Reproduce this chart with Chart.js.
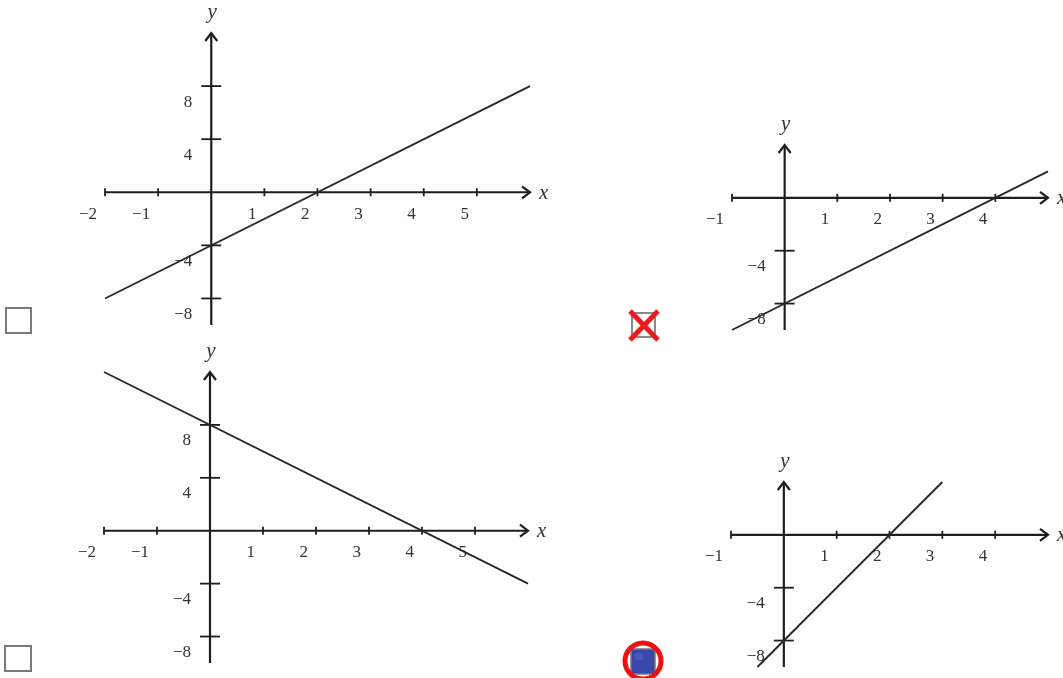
<!DOCTYPE html>
<html>
<head>
<meta charset="utf-8">
<script src="https://cdn.jsdelivr.net/npm/chart.js@4"></script>
<style>
  html, body { margin: 0; padding: 0; background: #fff; overflow: hidden; }
  body { width: 1063px; height: 678px; position: relative; }
  .plot { position: absolute; }
  .box { position: absolute; box-sizing: border-box; border: 2px solid #7a7a7a; background: #fff; }
  svg.mark { position: absolute; overflow: visible; }
</style>
</head>
<body>

<div class="plot" style="left:65px;top:3px"><canvas id="g1" width="505" height="337"></canvas></div>
<div class="plot" style="left:692px;top:115px"><canvas id="g2" width="396" height="230"></canvas></div>
<div class="plot" style="left:64px;top:342px"><canvas id="g3" width="504" height="336"></canvas></div>
<div class="plot" style="left:691px;top:452px"><canvas id="g4" width="397" height="230"></canvas></div>

<!-- answer boxes -->
<div class="box" style="left:5px;top:307px;width:27px;height:27px"></div>
<div class="box" style="left:4px;top:645px;width:28px;height:27px"></div>
<div class="box" style="left:631px;top:312px;width:25px;height:26px;border-color:#8a8a8a"></div>
<svg class="mark" style="left:0;top:0" width="1063" height="678">
  <line x1="630" y1="311" x2="658" y2="340" stroke="#ea1c1f" stroke-width="5"/>
  <line x1="658" y1="311" x2="630" y2="340" stroke="#ea1c1f" stroke-width="5"/>
  <rect x="631" y="649" width="24" height="25" fill="#3a48aa" stroke="#777" stroke-width="1.5"/>
  <rect x="635" y="653" width="8" height="7" fill="#4c5cc0" opacity="0.7"/>
  <circle cx="643" cy="661" r="18" fill="none" stroke="#ee1111" stroke-width="5"/>
</svg>

<script>
// tick positions and labels
const xTicksLeft = [-2, -1, 1, 2, 3, 4, 5];
const xLabelsLeft = ['−2', '−1', '1', '2', '3', '4', '5'];
const yTicksLeft = [8, 4, -4, -8];
const yLabelsLeft = ['8', '4', '−4', '−8'];

const xTicksRight = [-1, 1, 2, 3, 4];
const xLabelsRight = ['−1', '1', '2', '3', '4'];
const yTicksRight = [-4, -8];
const yLabelsRight = ['−4', '−8'];

// the four straight lines (end points)
const line1X = [-2, 6];   const line1Y = [-8, 8];
const line2X = [-1, 5];   const line2Y = [-10, 2];
const line3X = [-2, 6];   const line3Y = [12, -4];
const line4X = [-0.5, 3]; const line4Y = [-10, 4];

const INK = '#1e1e1e';
const TEXT = '#333';
const FONT = '"Liberation Serif", "DejaVu Serif", serif';

// draws the axes through the origin, with arrow heads, crossing ticks and offset labels
const axesPlugin = {
  id: 'axes',
  beforeDatasetsDraw(chart, args, o) {
    const ctx = chart.ctx;
    const xs = chart.scales.x, ys = chart.scales.y;
    const ox = xs.getPixelForValue(0), oy = ys.getPixelForValue(0);
    const left = xs.getPixelForValue(xs.min), right = xs.getPixelForValue(xs.max);
    const top = ys.getPixelForValue(ys.max), bottom = ys.getPixelForValue(ys.min);
    ctx.save();
    ctx.strokeStyle = INK;
    ctx.lineWidth = 2.2;
    ctx.lineCap = 'butt';

    // x axis
    ctx.beginPath();
    ctx.moveTo(left, oy); ctx.lineTo(right - 1, oy);
    ctx.stroke();
    ctx.beginPath();
    ctx.moveTo(right - 8, oy - 6); ctx.lineTo(right, oy); ctx.lineTo(right - 8, oy + 6);
    ctx.stroke();

    // y axis
    ctx.beginPath();
    ctx.moveTo(ox, bottom); ctx.lineTo(ox, top + 1);
    ctx.stroke();
    ctx.beginPath();
    ctx.moveTo(ox - 6, top + 8); ctx.lineTo(ox, top); ctx.lineTo(ox + 6, top + 8);
    ctx.stroke();

    ctx.font = '17px ' + FONT;
    ctx.fillStyle = TEXT;
    ctx.textBaseline = 'middle';
    ctx.textAlign = 'right';

    ctx.lineWidth = 1.8;
    o.xTicks.forEach((v, i) => {
      const px = xs.getPixelForValue(v);
      ctx.beginPath();
      ctx.moveTo(px, oy - 4); ctx.lineTo(px, oy + 4);
      ctx.stroke();
      ctx.fillText(o.xLabels[i], px - 8, oy + 22);
    });
    o.yTicks.forEach((v, i) => {
      const py = ys.getPixelForValue(v);
      ctx.beginPath();
      ctx.moveTo(ox - 10, py); ctx.lineTo(ox + 10, py);
      ctx.stroke();
      ctx.fillText(o.yLabels[i], ox - 19, py + 16);
    });

    // axis names
    ctx.font = 'italic 21px ' + FONT;
    ctx.textAlign = 'left';
    ctx.fillText('x', right + 9, oy + 1);
    ctx.textAlign = 'center';
    ctx.fillText('y', ox + 1, top - 21);
    ctx.restore();
  }
};

function makeGraph(id, xs, ys, xMin, xMax, yMin, yMax, ticks) {
  return new Chart(document.getElementById(id), {
    type: 'scatter',
    data: {
      datasets: [{
        data: xs.map((x, i) => ({ x, y: ys[i] })),
        showLine: true,
        borderColor: '#262626',
        borderWidth: 1.8,
        pointRadius: 0,
        clip: false
      }]
    },
    options: {
      responsive: false,
      animation: false,
      events: [],
      layout: { padding: { left: 40, right: 40, top: 30, bottom: 15 } },
      plugins: { legend: { display: false }, tooltip: { enabled: false }, axes: ticks },
      scales: {
        x: { type: 'linear', display: false, min: xMin, max: xMax },
        y: { type: 'linear', display: false, min: yMin, max: yMax }
      }
    },
    plugins: [axesPlugin]
  });
}

const leftTicks = { xTicks: xTicksLeft, xLabels: xLabelsLeft, yTicks: yTicksLeft, yLabels: yLabelsLeft };
const rightTicks = { xTicks: xTicksRight, xLabels: xLabelsRight, yTicks: yTicksRight, yLabels: yLabelsRight };

makeGraph('g1', line1X, line1Y, -2, 6, -10, 12, leftTicks);
makeGraph('g2', line2X, line2Y, -1, 5, -10, 4, rightTicks);
makeGraph('g3', line3X, line3Y, -2, 6, -10, 12, leftTicks);
makeGraph('g4', line4X, line4Y, -1, 5, -10, 4, rightTicks);
</script>
</body>
</html>
